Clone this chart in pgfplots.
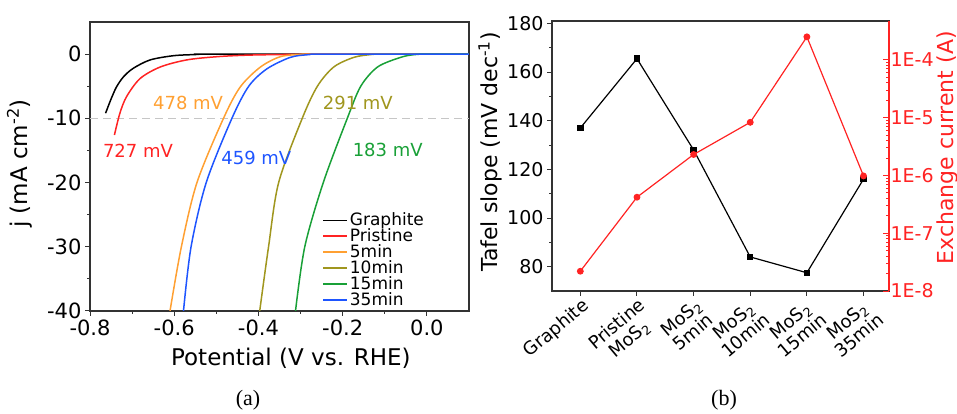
\documentclass[border=0pt]{standalone}
\usepackage{pgfplots}
\pgfplotsset{compat=1.18}
\usepackage{fontspec}
\setmainfont{DejaVu Sans}
\newfontfamily\capfont{Liberation Serif}
\definecolor{cRed}{RGB}{255,35,35}
\definecolor{cOrange}{RGB}{255,160,50}
\definecolor{cOlive}{RGB}{160,150,30}
\definecolor{cGreen}{RGB}{25,160,55}
\definecolor{cBlue}{RGB}{30,85,255}
\newcommand{\fs}[1]{\fontsize{#1}{#1}\selectfont}
\pgfplotsset{
  shortline/.style={legend image code/.code={\draw[##1] (0pt,0pt) -- (24pt,0pt);}},
}
\begin{document}
\begin{tikzpicture}[x=1pt,y=1pt]
\path[use as bounding box] (0,0) rectangle (957,414);
% ---------------- panel (a)
\begin{axis}[
  at={(90pt,103pt)}, anchor=south west, scale only axis,
  width=379pt, height=289pt,
  xmin=-0.8, xmax=0.1, ymin=-40, ymax=5,
  xtick={-0.8,-0.6,-0.4,-0.2,0}, minor x tick num=1,
  ytick={-40,-30,-20,-10,0}, minor y tick num=1,
  xtick pos=lower, ytick pos=left, tick align=outside,
  major tick length=5pt, minor tick length=3pt,
  axis line style={line width=1.4pt, black!80},
  every tick/.style={black!80, line width=1pt},
  /pgf/number format/assume math mode=true,
  xticklabel style={/pgf/number format/.cd, fixed, fixed zerofill, precision=1},
  ticklabel style={font=\fs{21}},
  xlabel={Potential (V vs. RHE)},
  ylabel={j (mA cm\textsuperscript{-2})},
  label style={font=\fs{23}},
  xlabel style={at={(axis description cs:0.53,-0.163)}, anchor=center},
  ylabel style={at={(axis description cs:-0.185,0.51)}, anchor=center},
  legend style={at={(rel axis cs:0.61,0.35)}, anchor=north west, draw=none, fill=none,
    font=\fs{17}, row sep=-2.5pt, inner sep=1pt},
  legend cell align=left,
  every axis plot/.append style={line width=1.5pt},
  shortline,
]
\addplot[gray!45, dash pattern=on 8pt off 5pt, line width=1.3pt, forget plot] coordinates {(-0.8,-10) (0.1,-10)};
\addplot[black, smooth, tension=0.5] coordinates {
(-0.763,-9.2) (-0.75,-7.0) (-0.737,-5.1) (-0.72,-3.5) (-0.697,-2.2) (-0.657,-0.9) (-0.602,-0.25) (-0.55,-0.07) (-0.5,0) (0.1,0)};
\addlegendentry{Graphite}
\addplot[cRed, smooth, tension=0.5] coordinates {
(-0.742,-12.6) (-0.729,-9.2) (-0.713,-6.6) (-0.681,-3.8) (-0.633,-2.0) (-0.570,-0.9) (-0.498,-0.4) (-0.42,-0.15) (-0.3,-0.03) (-0.2,0) (0.1,0)};
\addlegendentry{Pristine}
\addplot[cOrange, smooth, tension=0.5] coordinates {
(-0.61,-40) (-0.583,-30) (-0.546,-20) (-0.483,-10) (-0.443,-5.1) (-0.395,-2.0) (-0.348,-0.4) (-0.30,-0.05) (-0.26,0) (0.1,0)};
\addlegendentry{5min}
\addplot[cOlive, smooth, tension=0.5] coordinates {
(-0.397,-40) (-0.376,-30) (-0.352,-20) (-0.296,-10) (-0.260,-5) (-0.221,-2) (-0.173,-0.5) (-0.13,-0.05) (-0.10,0) (0.1,0)};
\addlegendentry{10min}
\addplot[cGreen, smooth, tension=0.5] coordinates {
(-0.312,-40) (-0.290,-30) (-0.246,-20) (-0.189,-10) (-0.157,-5) (-0.117,-2) (-0.062,-0.5) (-0.03,-0.08) (0.0,0) (0.1,0)};
\addlegendentry{15min}
\addplot[cBlue, smooth, tension=0.5] coordinates {
(-0.578,-40) (-0.560,-30) (-0.524,-20) (-0.463,-10) (-0.423,-5) (-0.380,-2.3) (-0.324,-0.5) (-0.28,-0.08) (-0.24,0) (0.1,0)};
\addlegendentry{35min}
\node[cOrange, font=\fs{18}] at (axis cs:-0.567,-7.6) {478 mV};
\node[cRed, font=\fs{18}] at (axis cs:-0.686,-15) {727 mV};
\node[cBlue, font=\fs{18}] at (axis cs:-0.405,-16.2) {459 mV};
\node[cOlive, font=\fs{18}] at (axis cs:-0.164,-7.6) {291 mV};
\node[cGreen, font=\fs{18}] at (axis cs:-0.093,-15) {183 mV};
\end{axis}
% ---------------- panel (b) left axis
\begin{axis}[
  at={(552pt,123pt)}, anchor=south west, scale only axis,
  width=337pt, height=270pt,
  xmin=-0.5, xmax=5.45, ymin=70, ymax=181,
  xtick={0,1,2,3,4,5},
  xticklabels={Graphite, Pristine\\MoS\textsubscript{2}, MoS\textsubscript{2}\\5min, MoS\textsubscript{2}\\10min, MoS\textsubscript{2}\\15min, MoS\textsubscript{2}\\35min},
  xticklabel style={rotate=40, anchor=north east, align=center, font=\fontsize{18}{19}\selectfont, inner sep=1pt, xshift=1pt},
  ytick={80,100,...,180}, minor y tick num=1,
  xtick pos=lower, ytick pos=left, tick align=outside,
  major tick length=5pt, minor tick length=3pt,
  axis line style={line width=1.4pt, black!80},
  every tick/.style={black!80, line width=1pt},
  /pgf/number format/assume math mode=true,
  yticklabel style={font=\fs{19}},
  ylabel={Tafel slope (mV dec\textsuperscript{-1})},
  ylabel style={font=\fs{22}, at={(axis description cs:-0.184,0.515)}, anchor=center},
]
\addplot[black, line width=1.2pt, mark=square*, mark size=2.6pt] coordinates {
(0,137) (1,165.5) (2,128) (3,84) (4,77.5) (5,116)};
\end{axis}
% ---------------- panel (b) right axis
\begin{axis}[
  at={(552pt,123pt)}, anchor=south west, scale only axis,
  width=337pt, height=270pt,
  xmin=-0.5, xmax=5.45, ymode=log, ymin=1e-8, ymax=4.7e-4,
  axis x line=none, axis y line*=right,
  y axis line style={cRed, line width=1.4pt},
  every tick/.style={cRed, line width=1pt},
  tick align=inside, major tick length=6pt, minor tick length=3pt,
  ytick={1e-8,1e-7,1e-6,1e-5,1e-4},
  yticklabels={1E-8,1E-7,1E-6,1E-5,1E-4},
  yticklabel style={font=\fs{19}, text=cRed, xshift=-2pt},
  ylabel={Exchange current (A)},
  ylabel style={font=\fs{22}, text=cRed, at={(axis description cs:1.172,0.53)}, anchor=center},
]
\addplot[cRed, line width=1.2pt, mark=*, mark size=2.8pt] coordinates {
(0,2.2e-8) (1,4.2e-7) (2,2.3e-6) (3,8.3e-6) (4,2.5e-4) (5,9.8e-7)};
\end{axis}
\node[font={\capfont\fs{22}}] at (248,14) {(a)};
\node[font={\capfont\fs{22}}] at (724,14) {(b)};
\end{tikzpicture}
\end{document}
